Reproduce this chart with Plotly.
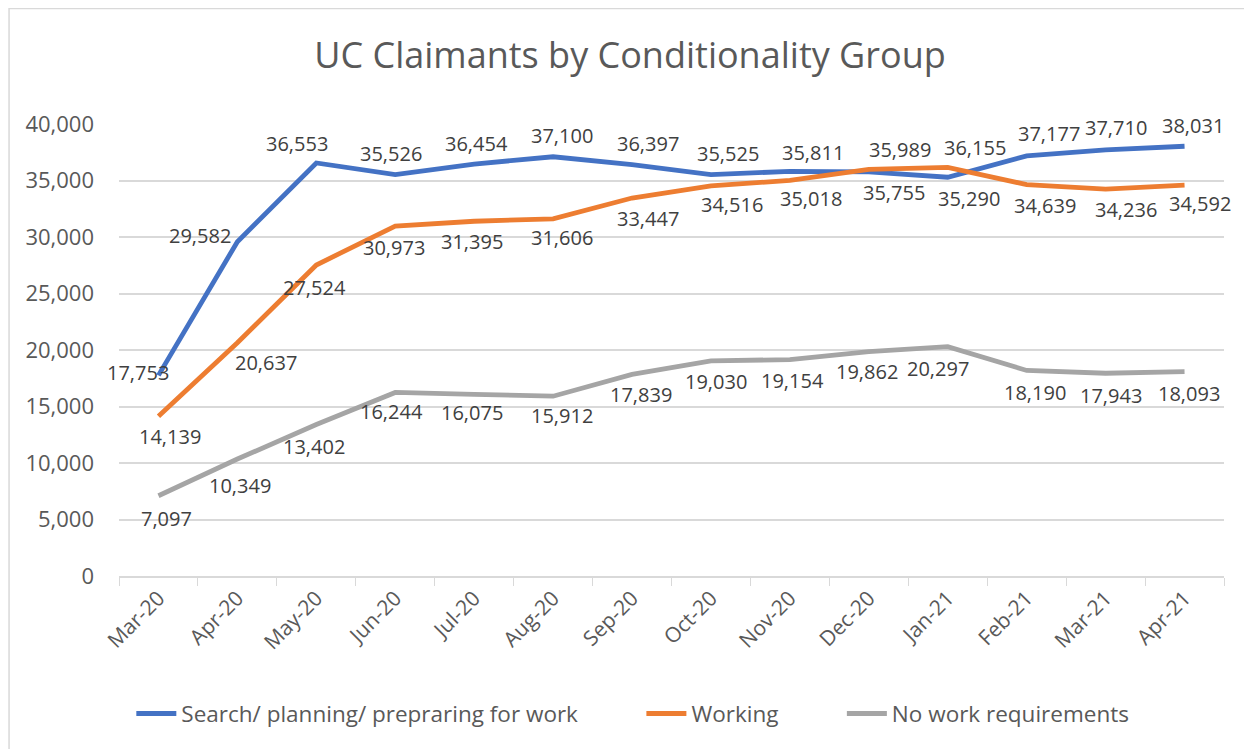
import plotly.graph_objects as go

# months on the x axis
months = ["Mar-20", "Apr-20", "May-20", "Jun-20", "Jul-20", "Aug-20", "Sep-20",
          "Oct-20", "Nov-20", "Dec-20", "Jan-21", "Feb-21", "Mar-21", "Apr-21"]

# claimants by conditionality group
search_planning = [17753, 29582, 36553, 35526, 36454, 37100, 36397,
                   35525, 35811, 35755, 35290, 37177, 37710, 38031]
working = [14139, 20637, 27524, 30973, 31395, 31606, 33447,
           34516, 35018, 35989, 36155, 34639, 34236, 34592]
no_work_req = [7097, 10349, 13402, 16244, 16075, 15912, 17839,
               19030, 19154, 19862, 20297, 18190, 17943, 18093]

# data label nudges in pixels (style only): dx right, dy up
dx_search = [-20, -37, -19, -4, 2, 9, 16, 17, 23, 25, 21, 22, 10, 8]
dy_search = [3, 6, 19, 21, 21, 21, 21, 21, 19, -21, -21, 22, 22, 21]
dx_working = [12, 29, -2, -1, -2, 9, 16, 21, 21, 31, 27, 18, 20, 15]
dy_working = [-20, -20, -23, -21, -20, -19, -20, -19, -18, 20, 20, -21, -20, -18]
dx_nowork = [8, 3, -2, -4, -2, 9, 9, 5, 3, -2, -10, 8, 5, 4]
dy_nowork = [-23, -26, -22, -19, -18, -19, -20, -21, -21, -20, -22, -22, -22, -22]

FONT = "Open Sans"
label_font = dict(family=FONT, size=20, color="#404040")
PAD = "\u00a0" * 10

fig = go.Figure()

series = [
    ("Search/ planning/ prepraring for work" + PAD, search_planning, "#4472C4", dx_search, dy_search),
    ("Working" + PAD, working, "#ED7D31", dx_working, dy_working),
    ("No work requirements", no_work_req, "#A5A5A5", dx_nowork, dy_nowork),
]

for name, vals, color, dxs, dys in series:
    fig.add_trace(go.Scatter(
        x=months, y=vals, name=name,
        mode="lines",
        line=dict(color=color, width=4.8),
        hoverinfo="x+y",
    ))
    for m, v, dx, dy in zip(months, vals, dxs, dys):
        fig.add_annotation(
            x=m, y=v, text=f"{v:,}",
            showarrow=False,
            xshift=dx, yshift=dy,
            font=label_font,
        )

fig.update_layout(
    width=1244, height=741,
    paper_bgcolor="white",
    plot_bgcolor="white",
    margin=dict(l=111, r=28, t=116, b=173),
    title=dict(
        text="UC Claimants by Conditionality Group",
        x=0.5, xanchor="center",
        y=0.9366, yanchor="middle",
        font=dict(family=FONT, size=36, color="#595959"),
    ),
    font=dict(family=FONT, color="#595959"),
    showlegend=True,
    legend=dict(
        orientation="h",
        x=0.465, xanchor="center",
        y=-0.305, yanchor="middle",
        font=dict(family=FONT, size=22.5, color="#595959"),
        itemwidth=40,
        bgcolor="rgba(0,0,0,0)",
    ),
    xaxis=dict(
        type="category",
        tickangle=-45,
        tickfont=dict(family=FONT, size=21, color="#595959"),
        showline=True, linecolor="#d9d9d9", linewidth=1.5,
        ticks="outside", tickson="boundaries", ticklen=8, tickcolor="#d9d9d9",
        showgrid=False,
        range=[-0.5, 13.5],
    ),
    yaxis=dict(
        range=[0, 40000],
        dtick=5000,
        tickformat=",",
        tickfont=dict(family=FONT, size=22, color="#595959"),
        gridcolor="#d9d9d9", gridwidth=1.5,
        zeroline=False,
        showline=False,
        ticks="",
        ticklabelstandoff=24,
    ),
)

# thin chart border like the Excel chart area
fig.add_shape(type="rect", xref="paper", yref="paper",
              x0=-0.0995, x1=1.0217, y0=-0.4, y1=1.2555,
              line=dict(color="#d9d9d9", width=1.5), layer="below")

fig.write_html("out.html")
